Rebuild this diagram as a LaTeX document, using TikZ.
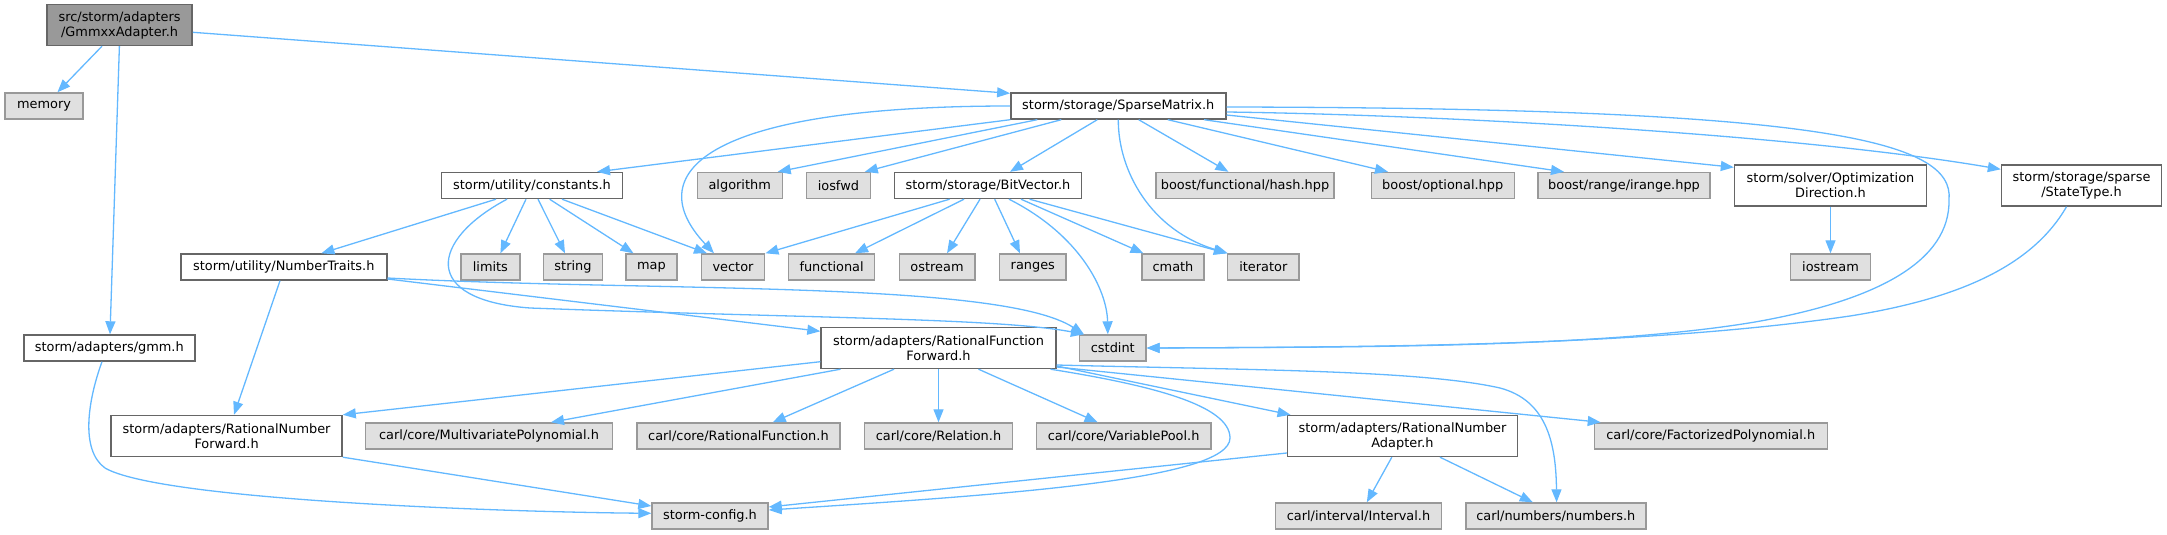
\documentclass[tikz,border=0pt]{standalone}
\usepackage{fontspec}
\setmainfont{DejaVu Sans}
\usetikzlibrary{arrows.meta}
\definecolor{gdark}{HTML}{666666}
\definecolor{gmid}{HTML}{999999}
\definecolor{gfill}{HTML}{E0E0E0}
\definecolor{edgec}{HTML}{63B8FF}
\newcommand{\dxfont}{\fontsize{12.9}{15}\selectfont}
\tikzset{
  box/.style={draw=gdark, fill=white, line width=1.4pt, inner sep=0pt, align=center,
              font=\dxfont, minimum height=26pt},
  two/.style={minimum height=41pt},
  ext/.style={box, draw=gmid, fill=gfill},
  rootbox/.style={box, fill=gmid, draw=gdark},
  edge/.style={draw=edgec, line width=1.3pt, -{Triangle[length=13pt,width=10pt]}},
}
\begin{document}
\begin{tikzpicture}[x=1pt,y=-1pt]
\useasboundingbox (0,0) rectangle (2167,535);
% rank 0
\node[rootbox,two,minimum width=145pt] (root) at (119.6,25) {src/storm/adapters\\/GmmxxAdapter.h};
% rank 1
\node[ext,minimum width=78pt] (memory) at (44,106) {memory};
\node[box,minimum width=215pt] (sm) at (1118.3,106) {storm/storage/SparseMatrix.h};
% rank 2
\node[box,minimum width=181pt] (consts) at (532,185.5) {storm/utility/constants.h};
\node[ext,minimum width=85pt] (algo) at (739.7,185.5) {algorithm};
\node[ext,minimum width=64pt] (iosfwd) at (838.4,185.5) {iosfwd};
\node[box,minimum width=187pt] (bv) at (988,185.5) {storm/storage/BitVector.h};
\node[ext,minimum width=178pt] (hash) at (1245,185.5) {boost/functional/hash.hpp};
\node[ext,minimum width=143pt] (opt) at (1442.7,185.5) {boost/optional.hpp};
\node[ext,minimum width=172pt] (irange) at (1624,185.5) {boost/range/irange.hpp};
\node[box,two,minimum width=192pt] (od) at (1830.5,185.5) {storm/solver/Optimization\\Direction.h};
\node[box,two,minimum width=160pt] (st) at (2081.5,185.5) {storm/storage/sparse\\/StateType.h};
% rank 3
\node[box,minimum width=206pt] (nt) at (283.8,267) {storm/utility/NumberTraits.h};
\node[ext,minimum width=59pt] (limits) at (490.4,267) {limits};
\node[ext,minimum width=59pt] (string) at (573,267) {string};
\node[ext,minimum width=51pt] (map) at (651.5,267) {map};
\node[ext,minimum width=63.5pt] (vector) at (733,267) {vector};
\node[ext,minimum width=86pt] (functional) at (831.6,267) {functional};
\node[ext,minimum width=75.6pt] (ostream) at (937,267) {ostream};
\node[ext,minimum width=66.4pt] (ranges) at (1032.8,267) {ranges};
\node[ext,minimum width=62pt] (cmath) at (1173,267) {cmath};
\node[ext,minimum width=71.7pt] (iterator) at (1263.3,267) {iterator};
\node[ext,minimum width=80pt] (iostream) at (1830.5,267) {iostream};
% rank 4
\node[box,minimum width=171pt] (gmm) at (109.3,348) {storm/adapters/gmm.h};
\node[box,two,minimum width=235pt] (rff) at (938.5,348) {storm/adapters/RationalFunction\\Forward.h};
\node[ext,minimum width=66.4pt] (cstdint) at (1112.8,348) {cstdint};
% rank 5
\node[box,two,minimum width=231pt] (rnf) at (226.6,436) {storm/adapters/RationalNumber\\Forward.h};
\node[ext,minimum width=247pt] (mp) at (489,436) {carl/core/MultivariatePolynomial.h};
\node[ext,minimum width=203pt] (rfn) at (738.4,436) {carl/core/RationalFunction.h};
\node[ext,minimum width=148.4pt] (rel) at (938.5,436) {carl/core/Relation.h};
\node[ext,minimum width=174.5pt] (vp) at (1123.6,436) {carl/core/VariablePool.h};
\node[box,two,minimum width=230pt] (rna) at (1402.5,436) {storm/adapters/RationalNumber\\Adapter.h};
\node[ext,minimum width=233pt] (fp) at (1710.7,436) {carl/core/FactorizedPolynomial.h};
% rank 6
\node[ext,minimum width=116pt] (scfg) at (710,516) {storm-config.h};
\node[ext,minimum width=166pt] (interval) at (1358.5,516) {carl/interval/Interval.h};
\node[ext,minimum width=180pt] (numbers) at (1555.8,516) {carl/numbers/numbers.h};

% ---- edges from root
\draw[edge] ([xshift=-17.6pt]root.south) -- ([xshift=13.4pt]memory.north);
\draw[edge] ([xshift=-0.2pt]root.south) -- ([xshift=0.7pt]gmm.north);
\draw[edge] ([yshift=-7.3pt]root.east) -- ([yshift=-1pt]sm.north west);
% ---- edges from SparseMatrix
\draw[edge] ([xshift=-108pt]sm.south) -- ([xshift=65pt]consts.north);
\draw[edge] (sm.west) .. controls (700,106) and (640,175) .. ([xshift=-19pt]vector.north);
\draw[edge] ([xshift=-81pt]sm.south) -- ([xshift=38pt]algo.north);
\draw[edge] ([xshift=-57pt]sm.south) -- ([xshift=26.4pt]iosfwd.north);
\draw[edge] ([xshift=-21pt]sm.south) -- ([xshift=22pt]bv.north);
\draw[edge] (sm.south) .. controls (1118,170) and (1150,230) .. ([xshift=1pt]iterator.north west);
\draw[edge] ([xshift=20.4pt]sm.south) -- ([xshift=-16.6pt]hash.north);
\draw[edge] ([xshift=49.5pt]sm.south) -- ([xshift=-54.7pt]opt.north);
\draw[edge] ([xshift=85.7pt]sm.south) -- ([xshift=-60pt]irange.north);
\draw[edge] ([yshift=-9pt]sm.east) -- ([yshift=-3pt]od.north west);
\draw[edge] ([yshift=-6pt]sm.east) .. controls (1450,115) and (1800,135) .. ([yshift=-5pt]st.north west);
\draw[edge] ([yshift=-1pt]sm.east) .. controls (1820,108) and (1955,140) .. (1949,200)
   .. controls (1950,260) and (1880,300) .. (1755,322)
   .. controls (1600,348) and (1350,347) .. (cstdint.east);
% ---- StateType
\draw[edge] ([xshift=-15pt]st.south) .. controls (2030,270) and (1950,300) .. (1850,316)
   .. controls (1650,345) and (1400,347) .. (cstdint.east);
% ---- OptimizationDirection
\draw[edge] (od.south) -- (iostream.north);
% ---- BitVector
\draw[edge] ([xshift=-38.4pt]bv.south) -- (vector.north east);
\draw[edge] ([xshift=-24pt]bv.south) -- ([xshift=23.4pt]functional.north);
\draw[edge] ([xshift=-8pt]bv.south) -- ([xshift=10pt]ostream.north);
\draw[edge] ([xshift=6.7pt]bv.south) -- ([xshift=-12.8pt]ranges.north);
\draw[edge] ([xshift=21pt]bv.south) .. controls (1080,235) and (1107,290) .. ([xshift=-5pt]cstdint.north);
\draw[edge] ([xshift=33pt]bv.south) -- ([xshift=-29.5pt]cmath.north);
\draw[edge] ([xshift=41.6pt]bv.south) -- (iterator.north west);
% ---- constants
\draw[edge] ([xshift=-36pt]consts.south) -- ([xshift=37.6pt]nt.north);
\draw[edge] ([xshift=-6pt]consts.south) -- ([xshift=10pt]limits.north);
\draw[edge] ([xshift=6pt]consts.south) -- ([xshift=-8pt]string.north);
\draw[edge] ([xshift=17.6pt]consts.south) -- ([xshift=-18pt]map.north);
\draw[edge] ([xshift=30pt]consts.south) -- ([xshift=-26pt]vector.north);
\draw[edge] ([xshift=-25pt]consts.south) .. controls (430,240) and (420,300) .. (530,308)
   .. controls (800,318) and (1000,318) .. ([xshift=5pt]cstdint.north west);
% ---- NumberTraits
\draw[edge] ([yshift=-11pt]nt.east) .. controls (650,292) and (1000,280) .. ([xshift=5pt]cstdint.north west);
\draw[edge] ([yshift=-12pt]nt.east) -- ([yshift=-4.5pt]rff.north west);
\draw[edge] ([xshift=-3.8pt]nt.south) -- ([xshift=7.4pt]rnf.north);
% ---- gmm
\draw[edge] ([xshift=-7.3pt]gmm.south) .. controls (88,400) and (80,450) .. (105,468)
   .. controls (160,500) and (500,512) .. ([yshift=2.7pt]scfg.west);
% ---- RationalNumberForward
\draw[edge] (rnf.south east) -- ([yshift=10pt]scfg.west);
% ---- RationalFunctionForward
\draw[edge] ([yshift=-13.7pt]rff.west) -- (rnf.north east);
\draw[edge] ([xshift=-98pt]rff.south) -- ([xshift=62pt]mp.north);
\draw[edge] ([xshift=-44.5pt]rff.south) -- ([xshift=34.3pt]rfn.north);
\draw[edge] (rff.south) -- (rel.north);
\draw[edge] ([xshift=40pt]rff.south) -- ([xshift=-26pt]vp.north);
\draw[edge] ([yshift=-18pt]rff.east) -- ([xshift=-112pt]rna.north);
\draw[edge] ([yshift=-19pt]rff.east) -- ([xshift=-110pt]fp.north);
\draw[edge] ([yshift=-17pt]rff.east) .. controls (1250,370) and (1420,370) .. (1500,388)
   .. controls (1545,400) and (1556,440) .. ([xshift=0.8pt]numbers.north);
\draw[edge] ([xshift=112pt]rff.south) .. controls (1150,385) and (1230,405) .. (1230,438)
   .. controls (1230,480) and (1000,495) .. ([yshift=6pt]scfg.east);
% ---- RationalNumberAdapter
\draw[edge] ([yshift=-17pt]rna.west) -- ([yshift=9pt]scfg.east);
\draw[edge] ([xshift=-10.7pt]rna.south) -- ([xshift=8.3pt]interval.north);
\draw[edge] ([xshift=37.5pt]rna.south) -- ([xshift=-23pt]numbers.north);
\end{tikzpicture}
\end{document}
